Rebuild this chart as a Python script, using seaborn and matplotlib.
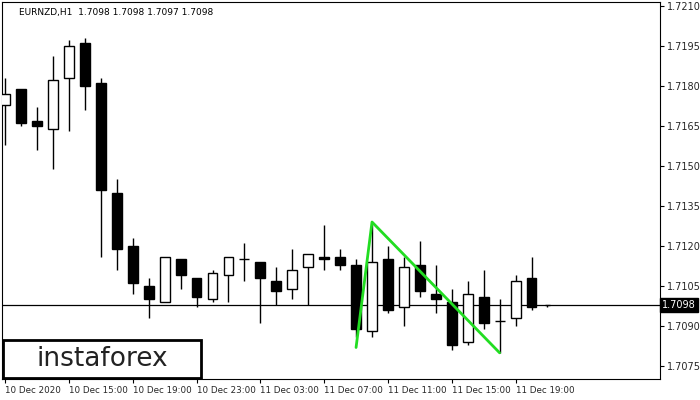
import numpy as np
import matplotlib
matplotlib.use("Agg")
import matplotlib.pyplot as plt
import seaborn as sns
from matplotlib.patches import Rectangle

sns.set_theme(style="white")
plt.rcParams["font.family"] = ["DejaVu Sans"]

# hourly candles, 10 Dec 11:00 onward
opens = [1.7173, 1.7179, 1.7167, 1.7164, 1.7183, 1.7196, 1.7181, 1.7140, 1.7120, 1.7105,
         1.7099, 1.7115, 1.7108, 1.7100, 1.7109, 1.7115, 1.7114, 1.7107, 1.7104, 1.7112,
         1.7116, 1.7116, 1.7113, 1.7088, 1.7115, 1.7097, 1.7113, 1.7102, 1.7099, 1.7084,
         1.7101, 1.7092, 1.7093, 1.7108, 1.7098]
highs = [1.7183, 1.7179, 1.7172, 1.7191, 1.7197, 1.7198, 1.7183, 1.7145, 1.7123, 1.7108,
         1.7116, 1.7115, 1.7108, 1.7111, 1.7116, 1.7121, 1.7114, 1.7112, 1.7119, 1.7117,
         1.7128, 1.7119, 1.7115, 1.7129, 1.7120, 1.7116, 1.7122, 1.7113, 1.7104, 1.7107,
         1.7111, 1.7100, 1.7109, 1.7116, 1.7098]
lows = [1.7158, 1.7165, 1.7156, 1.7149, 1.7163, 1.7171, 1.7116, 1.7111, 1.7102, 1.7093,
        1.7099, 1.7104, 1.7097, 1.7099, 1.7099, 1.7107, 1.7091, 1.7098, 1.7100, 1.7098,
        1.7111, 1.7111, 1.7086, 1.7086, 1.7095, 1.7090, 1.7101, 1.7095, 1.7081, 1.7083,
        1.7089, 1.7080, 1.7090, 1.7096, 1.7097]
closes = [1.7177, 1.7166, 1.7165, 1.7182, 1.7195, 1.7180, 1.7141, 1.7119, 1.7106, 1.7100,
          1.7116, 1.7109, 1.7101, 1.7110, 1.7116, 1.7115, 1.7108, 1.7103, 1.7111, 1.7117,
          1.7115, 1.7113, 1.7089, 1.7114, 1.7096, 1.7112, 1.7103, 1.7100, 1.7083, 1.7102,
          1.7091, 1.7092, 1.7107, 1.7097, 1.7098]

# pattern line: bar index and price
pattern_idx = [22, 23, 31]
pattern_px = [1.7082, 1.7129, 1.7080]

tick_idx = [0, 4, 8, 12, 16, 20, 24, 28, 32]
tick_labels = ["10 Dec 2020", "10 Dec 15:00", "10 Dec 19:00", "10 Dec 23:00", "11 Dec 03:00",
               "11 Dec 07:00", "11 Dec 11:00", "11 Dec 15:00", "11 Dec 19:00"]
y_ticks = [1.7075, 1.7090, 1.7105, 1.7120, 1.7135, 1.7150, 1.7165, 1.7180, 1.7195, 1.7210]
last_price = 1.7098

fig = plt.figure(figsize=(7, 4), dpi=100)
ax = fig.add_axes([0.003, 0.0525, 0.94, 0.9425])

w = 0.62
for i, (o, h, l, c) in enumerate(zip(opens, highs, lows, closes)):
    ax.vlines(i, l, h, color="black", lw=1, zorder=2)
    lo, hi = min(o, c), max(o, c)
    if i == len(opens) - 1:
        ax.hlines(c, i - 0.15, i + 0.15, color="black", lw=1, zorder=3)
        continue
    if hi - lo < 0.00005:
        ax.hlines(c, i - w / 2, i + w / 2, color="black", lw=1, zorder=3)
        continue
    face = "white" if c > o else "black"
    ax.add_patch(Rectangle((i - w / 2, lo), w, hi - lo, facecolor=face,
                           edgecolor="black", lw=1, zorder=3))

ax.axhline(last_price, color="black", lw=0.9, zorder=1)
ax.plot(pattern_idx, pattern_px, color="#22dd22", lw=2, zorder=4)

ax.set_xlim(-0.19, 41.06)
ax.set_ylim(1.70702, 1.72114)
ax.yaxis.tick_right()
ax.set_yticks(y_ticks)
ax.set_yticklabels([f"{v:.4f}" for v in y_ticks], fontsize=7)
ax.set_xticks(tick_idx)
ax.set_xticklabels(tick_labels, fontsize=6.3, ha="left")
ax.tick_params(axis="both", length=3, width=0.8, color="black", pad=2, direction="out")
ax.tick_params(axis="x", bottom=True)
ax.tick_params(axis="y", right=True)
for s in ax.spines.values():
    s.set_color("black")
    s.set_linewidth(0.8)

ax.text(1.003, (last_price - 1.70702) / (1.72114 - 1.70702), f"{last_price:.4f}",
        transform=ax.transAxes, fontsize=7, color="white", va="center", ha="left",
        bbox=dict(boxstyle="square,pad=0.2", fc="black", ec="black"))
ax.text(0.025, 0.985, "EURNZD,H1  1.7098 1.7098 1.7097 1.7098", transform=ax.transAxes,
        fontsize=6.5, va="top", color="black")

ax.add_patch(Rectangle((0.002, 0.003), 0.3, 0.1, transform=ax.transAxes,
                       facecolor="white", edgecolor="black", lw=2, zorder=5))
ax.text(0.152, 0.053, "instaforex", transform=ax.transAxes, fontsize=19,
        ha="center", va="center", color="#222222", zorder=6)

fig.savefig("out.png", dpi=100)
